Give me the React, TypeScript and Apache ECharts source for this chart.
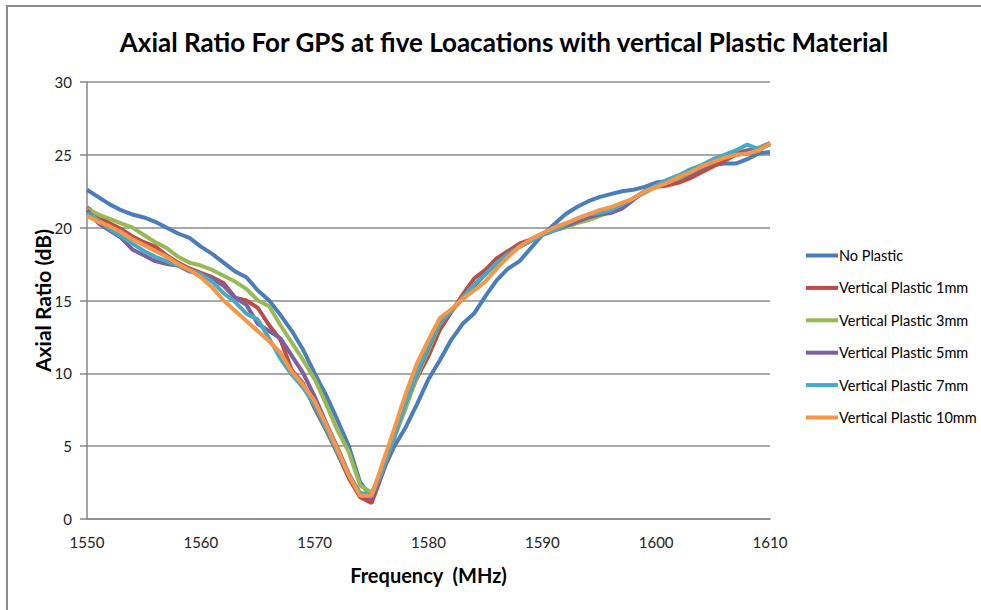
import React, { useEffect, useRef } from "react";
import * as echarts from "echarts";

const freqs: number[] = [];
for (let f = 1550; f <= 1610; f++) freqs.push(f);

const seriesNames = [
  "No Plastic",
  "Vertical Plastic 1mm",
  "Vertical Plastic 3mm",
  "Vertical Plastic 5mm",
  "Vertical Plastic 7mm",
  "Vertical Plastic 10mm",
];

const noPlastic = [
  22.6, 22.1, 21.6, 21.2, 20.9, 20.7, 20.4, 20.0, 19.6, 19.3,
  18.7, 18.2, 17.6, 17.0, 16.6, 15.7, 15.0, 14.0, 12.9, 11.6,
  10.0, 8.5, 6.8, 5.0, 2.5, 1.5, 3.3, 5.0, 6.3, 7.9,
  9.6, 10.9, 12.3, 13.4, 14.1, 15.3, 16.4, 17.2, 17.7, 18.6,
  19.5, 20.2, 20.9, 21.4, 21.8, 22.1, 22.3, 22.5, 22.6, 22.8,
  23.1, 23.2, 23.2, 23.6, 24.0, 24.3, 24.4, 24.4, 24.7, 25.1,
  25.2,
];

const plastic1mm = [
  21.4, 20.8, 20.3, 19.9, 19.4, 19.0, 18.7, 18.1, 17.6, 17.2,
  16.9, 16.6, 16.2, 15.2, 15.0, 14.5, 13.3, 12.3, 10.2, 9.3,
  7.6, 6.1, 4.5, 2.8, 1.5, 1.1, 3.2, 5.6, 7.9, 9.7,
  11.2, 13.0, 14.2, 15.4, 16.5, 17.1, 17.9, 18.4, 18.9, 19.2,
  19.6, 19.9, 20.2, 20.5, 20.8, 21.0, 21.2, 21.6, 22.0, 22.5,
  22.8, 22.9, 23.1, 23.4, 23.8, 24.2, 24.6, 25.0, 25.1, 25.3,
  25.8,
];

const plastic3mm = [
  21.3, 20.9, 20.6, 20.3, 20.0, 19.5, 19.0, 18.6, 18.0, 17.6,
  17.4, 17.1, 16.7, 16.3, 15.8, 15.0, 14.6, 13.3, 12.1, 10.9,
  9.6, 7.9, 6.1, 4.6, 2.3, 1.8, 3.5, 5.6, 7.6, 9.8,
  11.6, 13.4, 14.3, 15.2, 16.0, 16.8, 17.5, 18.1, 18.7, 19.1,
  19.5, 19.8, 20.0, 20.3, 20.5, 20.8, 21.1, 21.6, 22.0, 22.4,
  22.8, 23.1, 23.4, 23.8, 24.2, 24.5, 24.8, 25.1, 25.3, 25.5,
  25.8,
];

const plastic5mm = [
  21.2, 20.3, 19.8, 19.3, 18.5, 18.1, 17.7, 17.5, 17.4, 17.0,
  16.8, 16.5, 16.0, 15.2, 14.7, 13.4, 12.9, 12.4, 11.2, 10.0,
  8.4, 6.6, 4.9, 3.1, 1.7, 1.4, 3.4, 5.7, 8.0, 10.0,
  11.8, 13.5, 14.3, 15.1, 16.0, 16.8, 17.6, 18.2, 18.7, 19.1,
  19.5, 19.8, 20.1, 20.4, 20.7, 20.9, 21.0, 21.3, 21.9, 22.5,
  22.9, 23.2, 23.5, 23.8, 24.2, 24.5, 24.8, 25.1, 25.3, 25.4,
  25.8,
];

const plastic7mm = [
  21.0, 20.5, 19.9, 19.4, 18.9, 18.4, 18.0, 17.7, 17.4, 17.1,
  16.8, 16.3, 15.5, 14.9, 14.1, 13.7, 12.4, 11.0, 9.9, 9.0,
  7.8, 6.2, 4.6, 3.0, 1.8, 1.6, 3.4, 5.7, 8.0, 10.1,
  11.9, 13.5, 14.3, 15.2, 16.1, 16.8, 17.6, 18.2, 18.7, 19.1,
  19.5, 19.8, 20.2, 20.6, 20.9, 21.0, 21.2, 21.6, 22.0, 22.5,
  22.9, 23.3, 23.6, 24.0, 24.3, 24.7, 25.0, 25.3, 25.7, 25.4,
  25.7,
];

const plastic10mm = [
  20.8, 20.4, 20.1, 19.7, 19.2, 18.8, 18.4, 18.0, 17.5, 17.1,
  16.6, 15.9, 15.0, 14.3, 13.6, 12.9, 12.2, 11.4, 10.1, 9.2,
  8.1, 6.5, 4.8, 3.0, 1.6, 1.6, 3.9, 6.2, 8.6, 10.7,
  12.3, 13.8, 14.4, 15.1, 15.7, 16.3, 17.2, 18.0, 18.7, 19.2,
  19.6, 20.0, 20.3, 20.6, 20.9, 21.2, 21.4, 21.7, 22.0, 22.5,
  22.8, 23.1, 23.5, 23.8, 24.2, 24.5, 24.8, 25.0, 25.1, 25.3,
  25.8,
];

const allValues = [noPlastic, plastic1mm, plastic3mm, plastic5mm, plastic7mm, plastic10mm];
const colors = ["#4A7EBB", "#BE4B48", "#98B954", "#7D60A0", "#46AAC5", "#F79646"];

const FONT = "Lato, 'Open Sans', sans-serif";

export default function App() {
  const ref = useRef<HTMLDivElement>(null);
  useEffect(() => {
    if (!ref.current) return;
    const chart = echarts.init(ref.current, null, { renderer: "svg" });
    chart.setOption({
      animation: false,
      backgroundColor: "#ffffff",
      title: {
        text: "Axial Ratio For GPS at five Loacations with vertical Plastic Material",
        left: 499,
        top: 24,
        textAlign: "center",
        textStyle: { fontFamily: FONT, fontWeight: "bold", fontSize: 26, color: "#000" },
      },
      graphic: [
        {
          type: "rect",
          shape: { x: 7, y: 6, width: 1100, height: 800 },
          style: { fill: "none", stroke: "#8a8a8a", lineWidth: 2 },
          silent: true,
        },
      ],
      legend: {
        orient: "vertical",
        left: 806,
        top: 248,
        padding: 0,
        itemWidth: 32,
        itemHeight: 4,
        itemGap: 17.4,
        icon: "rect",
        textStyle: { fontFamily: FONT, fontSize: 14.5, color: "#000", padding: [0, 0, 0, -4] },
        data: seriesNames,
      },
      grid: { left: 87, right: 211, top: 82, bottom: 91, containLabel: false },
      xAxis: {
        type: "value",
        min: 1550,
        max: 1610,
        interval: 10,
        name: "Frequency  (MHz)",
        nameLocation: "middle",
        nameGap: 46,
        nameMoveOverlap: false,
        nameTextStyle: { fontFamily: FONT, fontWeight: "bold", fontSize: 20, color: "#000" },
        axisLine: { show: true, lineStyle: { color: "#868686", width: 1.5 } },
        axisTick: { show: false },
        axisLabel: {
          fontFamily: FONT,
          fontSize: 15,
          color: "#222",
          margin: 15,
          formatter: (v: number) => String(v),
        },
        splitLine: { show: false },
      },
      yAxis: {
        type: "value",
        min: 0,
        max: 30,
        interval: 5,
        name: "Axial Ratio (dB)",
        nameLocation: "middle",
        nameGap: 34,
        nameMoveOverlap: false,
        nameTextStyle: { fontFamily: FONT, fontWeight: "bold", fontSize: 21, color: "#000" },
        axisLine: { show: true, lineStyle: { color: "#868686", width: 1.5 } },
        axisTick: { show: true, length: 7, lineStyle: { color: "#868686", width: 1.5 } },
        axisLabel: { fontFamily: FONT, fontSize: 15, color: "#222", margin: 15 },
        splitLine: { show: true, lineStyle: { color: "#8c8c8c", width: 1.5 } },
      },
      series: seriesNames.map((name, i) => ({
        name,
        type: "line",
        data: freqs.map((f, j) => [f, allValues[i][j]]),
        symbol: "none",
        showSymbol: false,
        lineStyle: { color: colors[i], width: 4 },
        itemStyle: { color: colors[i] },
        z: 2 + i,
      })),
    });
    return () => chart.dispose();
  }, []);
  return (
    <div
      ref={ref}
      style={{ position: "fixed", left: 0, top: 0, width: 981, height: 610 }}
    />
  );
}
